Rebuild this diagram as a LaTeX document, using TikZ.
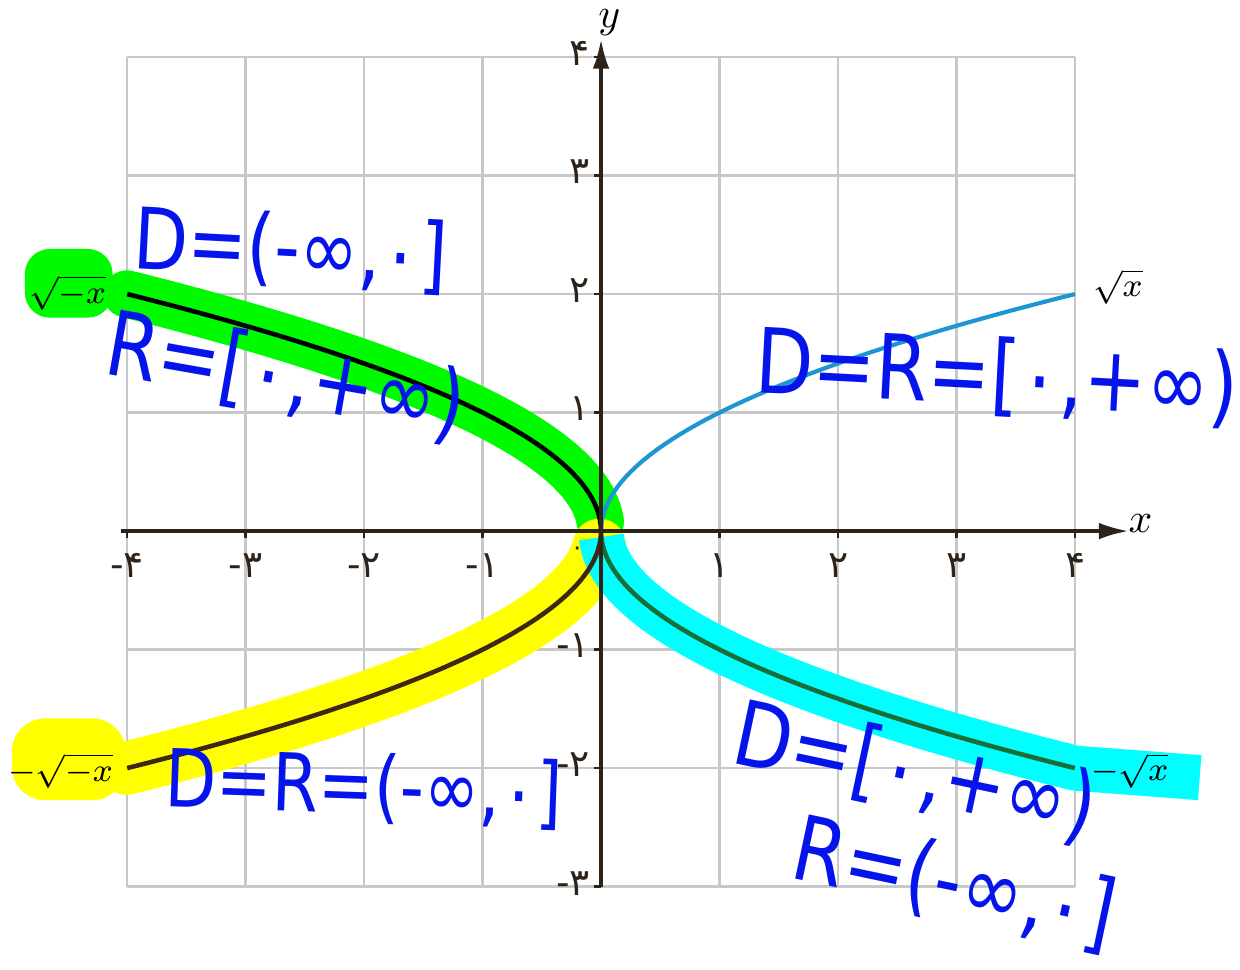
\documentclass[tikz,border=0pt]{standalone}
\usepackage{fontspec}
\usepackage{tikz}
\usetikzlibrary{arrows.meta}
\newfontfamily\hand{DejaVu Sans}
\newcommand{\ink}[1]{\scalebox{1}[1.2]{#1}}
\definecolor{gridgray}{RGB}{200,200,200}
\definecolor{axisbrown}{RGB}{45,35,25}
\definecolor{curveblue}{RGB}{30,150,210}
\definecolor{curvegreen}{RGB}{25,110,55}
\definecolor{curvebrown}{RGB}{60,40,20}
\definecolor{hlgreen}{RGB}{0,250,0}
\definecolor{hlyellow}{RGB}{255,255,0}
\definecolor{hlcyan}{RGB}{0,255,255}
\definecolor{inkblue}{RGB}{5,20,235}

\begin{document}
\begin{tikzpicture}[
    every node/.style={inner sep=1pt},
    tick/.style={font=\hand\fontsize{9}{9}\selectfont, text=axisbrown},
    fn/.style={font=\footnotesize},
    hl/.style={line width=0.4cm, line cap=round, line join=round},
    curve/.style={line width=1.1pt},
    note/.style={text=inkblue, inner sep=0pt, font=\hand\fontsize{#1}{#1}\selectfont},
    arr/.style={-{Latex[length=2.5mm,width=1.4mm]}, axisbrown, line width=0.8pt}
]
\useasboundingbox (-5.07,-3.70) rectangle (5.39,4.48);
\draw[gridgray, line width=0.6pt] (-4,-3) grid (4,4);

% highlighter marks
\fill[hlgreen, rounded corners=6pt] (-4.86,1.80) rectangle (-4.12,2.38);
\draw[hl, hlgreen] plot[domain=0.08:2, samples=40] ({-\x*\x},{\x});
\fill[hlyellow, rounded corners=8pt] (-4.97,-2.27) rectangle (-4.01,-1.58);
\draw[hl, hlyellow, line width=0.45cm] plot[domain=0.12:2, samples=40] ({-\x*\x},{-\x});
\draw[hl, hlcyan, line width=0.38cm, line cap=butt] plot[domain=0.05:2, samples=40] ({\x*\x},{-\x}) -- (5.05,-2.08);

% curves
\draw[curve, curveblue, line width=1pt] plot[domain=0:2, samples=50] ({\x*\x},{\x});
\draw[curve, black] plot[domain=0:2, samples=50] ({-\x*\x},{\x});
\draw[curve, curvebrown] plot[domain=0:2, samples=50] ({-\x*\x},{-\x});
\draw[curve, curvegreen] plot[domain=0:2, samples=50] ({\x*\x},{-\x});

% axes
\draw[arr] (-4.05,0) -- (4.45,0);
\draw[arr] (0,-3) -- (0,4.15);
\node (xlab) at (4.55,0.06) {$x$};
\node (ylab) at (0.07,4.29) {$y$};
\foreach \i/\d in {-4/-۴,-3/-۳,-2/-۲,-1/-۱,1/۱,2/۲,3/۳,4/۴} {
  \draw[axisbrown, line width=0.6pt] (\i,0) -- (\i,-0.06);
  \node[tick] (xt\i) at (\i,-0.29) {\d};
}
\foreach \j/\d in {-3/-۳,-2/-۲,-1/-۱,1/۱,2/۲,3/۳,4/۴} {
  \draw[axisbrown, line width=0.6pt] (0,\j) -- (-0.06,\j);
  \node[tick, anchor=east] (yt\j) at (-0.05,\j+0.03) {\d};
}
\node[tick, font=\hand\fontsize{6}{6}\selectfont] (zero) at (-0.2,-0.17) {۰};

% function names
\node[fn] (lsqrt) at (4.36,2.06) {$\sqrt{x}$};
\node[fn] (lsqrtneg) at (-4.5,2.01) {$\sqrt{-x}$};
\node[fn] (lnegsqrtneg) at (-4.56,-2.02) {$-\sqrt{-x}$};
\node[fn] (lnegsqrt) at (4.46,-2.02) {$-\sqrt{x}$};

% handwritten notes
\node[note=17, rotate=-3] (domA) at (-2.62,2.37) {\ink{D=(-∞,۰]}};
\node[note=18, rotate=-10] (ranA) at (-2.66,1.30) {\ink{R=[۰,+∞)}};
\node[note=18, rotate=-3] (drB) at (3.34,1.30) {\ink{D=R=[۰,+∞)}};
\node[note=16, rotate=-2] (drC) at (-2.0,-2.17) {\ink{D=R=(-∞,۰]}};
\node[note=18, rotate=-12] (domD) at (2.65,-2.04) {\ink{D=[۰,+∞)}};
\node[note=18, rotate=-12] (ranD) at (2.98,-2.98) {\ink{R=(-∞,۰]}};
\end{tikzpicture}
\end{document}
